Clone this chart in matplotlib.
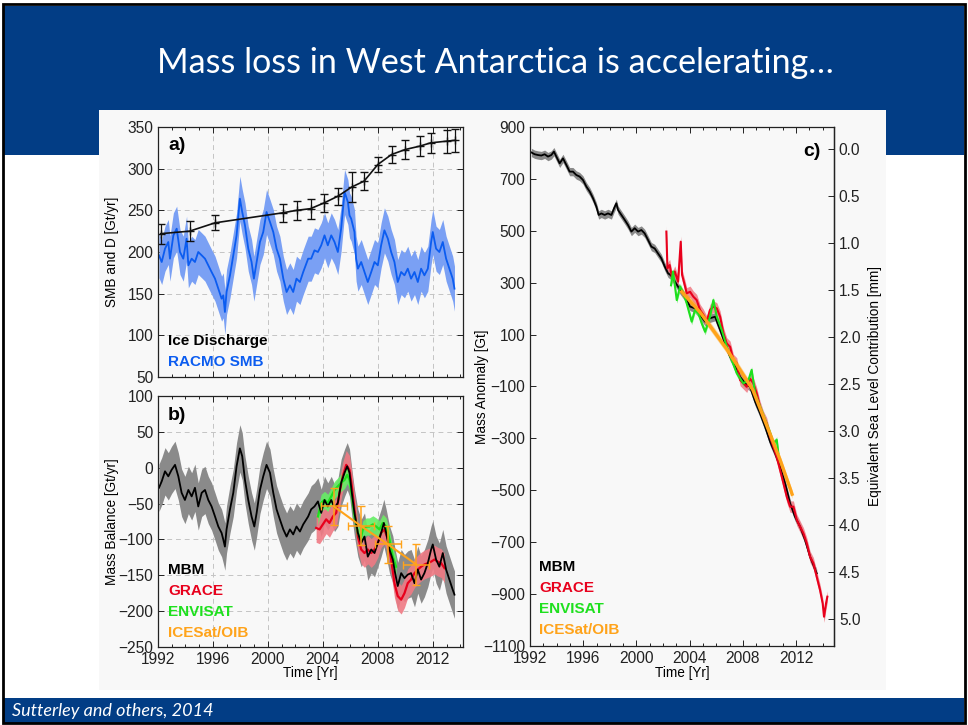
import numpy as np
import matplotlib
matplotlib.use("Agg")
import matplotlib.pyplot as plt
from matplotlib.patches import Rectangle
from matplotlib.ticker import MultipleLocator, FormatStrFormatter

plt.rcParams['font.family'] = ['Liberation Sans', 'DejaVu Sans']

# ---- panel a: RACMO SMB and ice discharge [Gt/yr]
smb_years = [1992.07, 1992.27, 1992.51, 1992.75, 1992.87, 1993.12, 1993.36, 1993.60, 1993.84, 1994.08,
             1994.21, 1994.45, 1994.69, 1994.93, 1995.18, 1995.42, 1995.66, 1995.90, 1996.15, 1996.39,
             1996.63, 1996.75, 1996.87, 1996.99, 1997.24, 1997.48, 1997.72, 1997.96, 1998.13, 1998.33,
             1998.57, 1998.81, 1998.98, 1999.18, 1999.42, 1999.66, 1999.90, 2000.15, 2000.39, 2000.63,
             2000.87, 2001.12, 2001.36, 2001.60, 2001.84, 2002.08, 2002.33, 2002.57, 2002.93,
             2003.15, 2003.39, 2003.64, 2003.88, 2004.12, 2004.36, 2004.61, 2004.85, 2005.09, 2005.33,
             2005.58, 2005.70, 2005.82, 2005.94, 2006.06, 2006.30, 2006.42, 2006.55, 2006.79, 2007.03,
             2007.27, 2007.52, 2007.76, 2008.00, 2008.24, 2008.48, 2008.73, 2008.97, 2009.21, 2009.45,
             2009.70, 2009.94, 2010.18, 2010.42, 2010.67, 2010.91, 2011.15, 2011.39, 2011.64, 2011.88,
             2012.00, 2012.24, 2012.48, 2012.73, 2012.97, 2013.21, 2013.45, 2013.58]
smb_vals = [196, 188, 204, 212, 192, 220, 228, 200, 192, 216,
            184, 192, 188, 200, 196, 192, 184, 176, 168, 156,
            144, 148, 128, 152, 172, 196, 220, 264, 248, 232,
            204, 188, 168, 188, 212, 224, 248, 236, 224, 204,
            192, 168, 152, 160, 152, 168, 164, 176, 192,
            192, 202, 200, 208, 220, 208, 220, 212, 200, 228,
            272, 266, 260, 244, 240, 224, 192, 180, 188, 176,
            164, 176, 188, 184, 208, 226, 216, 200, 188, 164,
            176, 172, 180, 168, 176, 164, 180, 172, 180, 212,
            224, 204, 200, 212, 192, 180, 168, 156]
smb_err = 27

dis_years = [1992.2, 1994.3, 1996.15, 2001.07, 2002.1, 2003.1, 2004.1, 2005.1, 2006.1,
             2007.0, 2008.0, 2009.0, 2010.0, 2011.05, 2011.85, 2013.0, 2013.6]
dis_vals = [222, 225, 235, 247, 250, 252, 259, 267, 278, 285, 305, 317, 323, 327, 331, 333, 334]
dis_err = [12, 12, 9, 11, 11, 12, 11, 10, 18, 11, 9, 10, 11, 12, 12, 14, 14]

# ---- panel b: mass balance [Gt/yr]
mbm_years = [1992.07, 1992.27, 1992.51, 1992.75, 1992.99, 1993.24, 1993.48, 1993.72, 1993.96, 1994.21,
             1994.45, 1994.69, 1994.93, 1995.18, 1995.42, 1995.66, 1995.90, 1996.15, 1996.39, 1996.63,
             1996.75, 1996.87, 1996.99, 1997.24, 1997.48, 1997.72, 1997.96, 1998.13, 1998.33, 1998.57,
             1998.81, 1999.01, 1999.18, 1999.42, 1999.66, 1999.90, 2000.15, 2000.39, 2000.63, 2000.87,
             2001.12, 2001.36, 2001.60, 2001.84, 2002.08, 2002.33, 2002.57, 2002.93,
             2003.15, 2003.39, 2003.64, 2003.88, 2004.12, 2004.36, 2004.61, 2004.85, 2005.09, 2005.33,
             2005.58, 2005.77, 2005.94, 2006.11, 2006.30, 2006.55, 2006.79, 2007.03, 2007.27, 2007.52,
             2007.76, 2008.00, 2008.24, 2008.44, 2008.61, 2008.85, 2009.09, 2009.26, 2009.45, 2009.70,
             2009.94, 2010.18, 2010.42, 2010.67, 2010.91, 2011.15, 2011.39, 2011.64, 2011.88, 2012.00,
             2012.24, 2012.48, 2012.73, 2012.97, 2013.21, 2013.45, 2013.58]
mbm_vals = [-28, -19, -5, -12, -3, 4, -12, -35, -45, -31,
            -40, -28, -54, -35, -31, -45, -54, -68, -82, -91,
            -100, -110, -86, -58, -35, 2, 27, 16, -17, -45,
            -68, -82, -63, -31, -12, 4, -7, -35, -58, -72,
            -86, -96, -86, -93, -82, -89, -79, -68,
            -58, -54, -47, -63, -45, -54, -45, -56, -49, -21,
            -7, 2, -7, -35, -63, -91, -105, -96, -124, -114,
            -119, -105, -91, -77, -91, -114, -128, -147, -165, -147,
            -154, -149, -147, -161, -142, -156, -147, -133, -114, -107,
            -128, -138, -119, -142, -156, -170, -177]
mbm_err = 33

grace_years = [2003.51, 2003.76, 2004.00, 2004.24, 2004.48, 2004.73, 2004.97, 2005.21, 2005.45, 2005.70,
               2005.94, 2006.11, 2006.30, 2006.55, 2006.79, 2007.03, 2007.27, 2007.52, 2007.76, 2008.00,
               2008.24, 2008.48, 2008.73, 2008.97, 2009.21, 2009.45, 2009.70, 2009.94, 2010.18, 2010.42,
               2010.67, 2010.91, 2011.15, 2011.39, 2011.64, 2011.88, 2012.12, 2012.36, 2012.61, 2012.85]
grace_vals = [-84, -86, -79, -72, -77, -68, -63, -35, -12, 4,
              -3, -26, -58, -96, -114, -119, -114, -119, -114, -105,
              -91, -86, -100, -128, -161, -179, -184, -175, -161, -156,
              -147, -142, -138, -135, -133, -131, -128, -131, -133, -140]
grace_err = 20

env_years = [2003.64, 2003.88, 2004.12, 2004.36, 2004.61, 2004.85, 2005.09, 2005.33, 2005.58, 2005.77,
             2005.94, 2006.11, 2006.30, 2006.55, 2006.74, 2006.91, 2007.15, 2007.39, 2007.64, 2007.88,
             2008.12, 2008.36, 2008.61, 2008.85, 2009.09, 2009.33]
env_vals = [-68, -49, -45, -49, -40, -31, -26, -21, -17, -10,
            -17, -40, -68, -91, -100, -86, -82, -82, -79, -82,
            -86, -77, -82, -100, -124, -138]
env_err = 12

ice_years = [2004.8, 2006.75, 2008.75, 2010.8]
ice_vals = [-54, -81, -107, -135]
ice_yerr = [26, 27, 26, 29]
ice_xerr = [0.95, 0.95, 0.95, 0.95]

# ---- panel c: cumulative mass anomaly [Gt]
cmbm_years = [1992.10, 1992.35, 1992.60, 1992.85, 1993.10, 1993.35, 1993.60, 1993.80, 1993.98, 1994.23,
              1994.48, 1994.73, 1994.98, 1995.23, 1995.48, 1995.73, 1995.98, 1996.24, 1996.49, 1996.74,
              1996.99, 1997.16, 1997.36, 1997.61, 1997.86, 1998.12, 1998.32, 1998.49, 1998.62, 1998.87,
              1999.12, 1999.37, 1999.62, 1999.87, 2000.12, 2000.37, 2000.62, 2000.87, 2001.12, 2001.37,
              2001.62, 2001.87, 2002.13, 2002.38, 2002.60, 2002.90, 2003.28, 2003.65, 2004.03, 2004.41,
              2004.78, 2005.16, 2005.53, 2005.91, 2006.29, 2006.66, 2007.04, 2007.41, 2007.79, 2008.17,
              2008.54, 2008.92, 2009.29, 2009.67, 2010.05, 2010.42, 2010.80, 2011.17, 2011.55, 2011.92,
              2012.30, 2012.68, 2013.05, 2013.30, 2013.55]
cmbm_vals = [802, 795, 792, 790, 795, 786, 792, 805, 786, 760,
             779, 754, 728, 728, 715, 709, 696, 670, 651, 625,
             593, 561, 567, 561, 567, 561, 587, 606, 580, 561,
             542, 522, 497, 510, 497, 503, 490, 465, 439, 432,
             413, 394, 362, 336, 328, 304, 272, 246, 208, 201,
             176, 150, 163, 169, 118, 66, 15, -17, -62, -88,
             -101, -158, -203, -255, -313, -357, -409, -473, -550, -602,
             -640, -692, -756, -788, -820]
cmbm_err = 16

cgrace_years = [2002.25, 2002.33, 2002.50, 2002.68, 2002.88, 2003.13, 2003.33, 2003.43, 2003.63, 2003.78,
                2004.03, 2004.28, 2004.53, 2004.78, 2005.03, 2005.28, 2005.53, 2005.78, 2006.04, 2006.29,
                2006.54, 2006.79, 2007.04, 2007.29, 2007.54, 2007.79, 2008.04, 2008.29, 2008.54, 2008.79,
                2009.04, 2009.29, 2009.54, 2009.79, 2010.04, 2010.29, 2010.54, 2010.80, 2011.05, 2011.30,
                2011.55, 2011.80, 2012.05, 2012.30, 2012.55, 2012.80, 2013.05, 2013.30, 2013.55, 2013.80,
                2014.00, 2014.10, 2014.25, 2014.35]
cgrace_vals = [497, 355, 368, 317, 343, 304, 458, 330, 291, 259,
               265, 246, 233, 195, 176, 150, 195, 208, 201, 169,
               105, 66, 53, 2, -11, -75, -88, -101, -70, -88,
               -126, -178, -216, -242, -293, -332, -370, -422, -473, -525,
               -563, -563, -614, -640, -666, -704, -756, -781, -833, -884,
               -936, -987, -936, -910]
cgrace_err = 22

cenv_years = [2002.60, 2002.75, 2003.03, 2003.28, 2003.53, 2003.78, 2004.15, 2004.40, 2004.66, 2004.91,
              2005.16, 2005.53, 2005.78, 2006.04, 2006.41, 2006.79, 2007.16, 2007.54, 2008.04, 2008.42,
              2008.66, 2008.92, 2009.29, 2009.67, 2010.05, 2010.29, 2010.55, 2010.67]
cenv_vals = [290, 343, 233, 285, 259, 220, 150, 195, 182, 143,
             111, 169, 233, 169, 118, 53, 2, -49, -88, -75,
             -36, -126, -178, -229, -280, -319, -306, -358]
cenv_err = 12

cice_years = [2003.4, 2004.8, 2006.75, 2008.75, 2010.8, 2011.7]
cice_vals = [265, 185, 47, -113, -383, -515]
cice_err = 16

# sea level conversion for right axis of c
gt_ref = 815.0
gt_per_mm = 362.0

# ---- colours
blue_slide = '#023d85'
bg = '#f8f8f8'
c_smb, c_smb_band = '#0b5cf0', '#7aa0f4'
c_grace, c_grace_band = '#e8001c', '#f07a84'
c_env, c_env_band = '#1ee01e', '#66ee66'
c_ice = '#ffa31a'
c_gray = '#8a8a8a'

W, H = 968, 725
fig = plt.figure(figsize=(W / 100, H / 100), dpi=100)
fig.patch.set_facecolor('white')


def box(x0, y0, x1, y1):
    return [x0 / W, 1 - y1 / H, (x1 - x0) / W, (y1 - y0) / H]


def rect(x0, y0, x1, y1, **kw):
    fig.add_artist(Rectangle((x0 / W, 1 - y1 / H), (x1 - x0) / W, (y1 - y0) / H,
                             transform=fig.transFigure, **kw))


def ftext(x, y, s, **kw):
    fig.text(x / W, 1 - y / H, s, **kw)


# slide furniture
rect(4, 6, 964, 155, facecolor=blue_slide, edgecolor='none', zorder=-3)
rect(99, 110, 886, 690, facecolor=bg, edgecolor='none', zorder=-2)
rect(4, 698, 964, 723, facecolor=blue_slide, edgecolor='none', zorder=-3)
rect(3, 4, 965, 723, fill=False, edgecolor='black', lw=2, zorder=5)
ftext(495, 63, 'Mass loss in West Antarctica is accelerating\u2026', color='white',
      fontsize=24.5, family=['Lato', 'DejaVu Sans'], ha='center', va='center')
ftext(12, 711, 'Sutterley and others, 2014', color='white', fontsize=13, style='italic',
      family=['Lato', 'DejaVu Sans'], ha='left', va='center')

tick_fs = 11.2


def style(ax, right=True):
    ax.set_facecolor(bg)
    for sp in ax.spines.values():
        sp.set_linewidth(0.9)
        sp.set_color('#222222')
    ax.xaxis.set_major_locator(MultipleLocator(4))
    ax.xaxis.set_minor_locator(MultipleLocator(1))
    ax.tick_params(which='both', direction='in', top=True, right=right, width=0.7,
                   labelsize=tick_fs, colors='#222222')
    ax.tick_params(which='major', length=4)
    ax.tick_params(which='minor', length=2.5)


def grid(ax):
    ax.set_axisbelow(True)
    ax.grid(True, which='major', ls=(0, (5, 4)), color='#c4c4c4', lw=0.7)


# ---- a)
axa = fig.add_axes(box(158, 127, 463, 377))
style(axa)
grid(axa)
axa.fill_between(smb_years, np.array(smb_vals) - smb_err, np.array(smb_vals) + smb_err,
                 color=c_smb_band, lw=0)
axa.plot(smb_years, smb_vals, color=c_smb, lw=1.3)
axa.errorbar(dis_years, dis_vals, yerr=dis_err, fmt='-', color='#111111', lw=1.2,
             marker='+', ms=6, mew=1, elinewidth=0.9, capsize=3)
axa.set_xlim(1992, 2014.2)
axa.set_ylim(50, 350)
axa.set_yticks(np.arange(50, 351, 50))
axa.tick_params(labelbottom=False)
axa.set_ylabel('SMB and D [Gt/yr]', fontsize=9.8)
axa.yaxis.set_label_coords(-0.128, 0.5)

# ---- b)
axb = fig.add_axes(box(158, 396, 463, 647))
style(axb)
grid(axb)
axb.fill_between(mbm_years, np.array(mbm_vals) - mbm_err, np.array(mbm_vals) + mbm_err,
                 color=c_gray, lw=0)
axb.fill_between(grace_years, np.array(grace_vals) - grace_err, np.array(grace_vals) + grace_err,
                 color=c_grace_band, alpha=0.9, lw=0)
axb.fill_between(env_years, np.array(env_vals) - env_err, np.array(env_vals) + env_err,
                 color=c_env_band, alpha=0.9, lw=0)
axb.plot(grace_years, grace_vals, color=c_grace, lw=1.6)
axb.plot(env_years, env_vals, color=c_env, lw=1.6)
axb.plot(mbm_years, mbm_vals, color='black', lw=1.3)
axb.errorbar(ice_years, ice_vals, yerr=ice_yerr, xerr=ice_xerr, fmt='-', color=c_ice,
             lw=1.5, elinewidth=1.1, capsize=3)
axb.set_xlim(1992, 2014.2)
axb.set_ylim(-250, 100)
axb.set_yticks(np.arange(-250, 101, 50))
axb.set_ylabel('Mass Balance [Gt/yr]', fontsize=9.8)
axb.yaxis.set_label_coords(-0.128, 0.5)
axb.set_xlabel('Time [Yr]', fontsize=9.8)
axb.xaxis.set_label_coords(0.5, -0.076)

# ---- c)
axc = fig.add_axes(box(530, 127, 834, 646))
style(axc, right=False)
axc.fill_between(cmbm_years, np.array(cmbm_vals) - cmbm_err, np.array(cmbm_vals) + cmbm_err,
                 color=c_gray, lw=0)
axc.fill_between(cgrace_years, np.array(cgrace_vals) - cgrace_err, np.array(cgrace_vals) + cgrace_err,
                 color=c_grace_band, alpha=0.85, lw=0)
axc.fill_between(cenv_years, np.array(cenv_vals) - cenv_err, np.array(cenv_vals) + cenv_err,
                 color=c_env_band, alpha=0.8, lw=0)
axc.fill_between(cice_years, np.array(cice_vals) - cice_err, np.array(cice_vals) + cice_err,
                 color=c_ice, alpha=0.45, lw=0)
axc.plot(cmbm_years, cmbm_vals, color='black', lw=1.3)
axc.plot(cgrace_years, cgrace_vals, color=c_grace, lw=1.5)
axc.plot(cenv_years, cenv_vals, color=c_env, lw=1.5)
axc.plot(cice_years, cice_vals, color=c_ice, lw=2.4)
axc.set_xlim(1992, 2014.85)
axc.set_ylim(-1100, 900)
axc.set_yticks(np.arange(-1100, 901, 200))
axc.set_ylabel('Mass Anomaly [Gt]', fontsize=9.8)
axc.yaxis.set_label_coords(-0.135, 0.5)
axc.set_xlabel('Time [Yr]', fontsize=9.8)
axc.xaxis.set_label_coords(0.5, -0.0385)

sec = axc.secondary_yaxis('right', functions=(lambda m: (gt_ref - m) / gt_per_mm,
                                              lambda s: gt_ref - gt_per_mm * s))
sec.set_yticks(np.arange(0, 5.01, 0.5))
sec.yaxis.set_major_formatter(FormatStrFormatter('%.1f'))
sec.tick_params(direction='in', length=4, width=0.7, labelsize=tick_fs, colors='#222222')
sec.spines['right'].set_linewidth(0.9)
sec.set_ylabel('Equivalent Sea Level Contribution [mm]', fontsize=9.8)
sec.yaxis.set_label_coords(1.112, 0.5, transform=axc.transAxes)

# panel letters and legends
bold = dict(fontweight='bold', ha='left', va='center', fontsize=11)
ftext(177, 146, 'a)', fontsize=14, fontweight='bold', ha='center', va='center')
ftext(177, 415, 'b)', fontsize=14, fontweight='bold', ha='center', va='center')
ftext(812, 151, 'c)', fontsize=14, fontweight='bold', ha='center', va='center')
ftext(168, 341, 'Ice Discharge', color='black', **bold)
ftext(168, 362, 'RACMO SMB', color=c_smb, **bold)
for lx, ly in [(168, 570), (539, 567)]:
    ftext(lx, ly, 'MBM', color='black', **bold)
    ftext(lx, ly + 21, 'GRACE', color=c_grace, **bold)
    ftext(lx, ly + 42, 'ENVISAT', color=c_env, **bold)
    ftext(lx, ly + 63, 'ICESat/OIB', color=c_ice, **bold)

fig.savefig('out.png', dpi=100, facecolor=fig.get_facecolor())
